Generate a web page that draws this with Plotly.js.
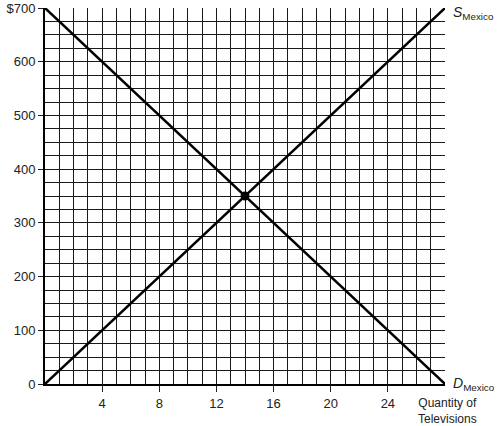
<!DOCTYPE html>
<html>
<head>
<meta charset="utf-8">
<script src="https://cdn.plot.ly/plotly-3.0.1.min.js"></script>
<style>
  html, body { margin: 0; padding: 0; background: #fff; }
  #chart { width: 498px; height: 426px; }
</style>
</head>
<body>
<div id="chart"></div>
<script>
// Market for televisions in Mexico
const quantity = [0, 28];
const supplyPrice = [0, 700];
const demandPrice = [700, 0];
const eqQuantity = [14];
const eqPrice = [350];

const xTickVals = [4, 8, 12, 16, 20, 24];
const yTickVals = [0, 100, 200, 300, 400, 500, 600, 700];
const yTickText = ['0', '100', '200', '300', '400', '500', '600', '$700'];

const gridColor = '#1a1a1a';
const font = { family: 'Liberation Sans, Arial, sans-serif', size: 13, color: '#222' };

const traces = [
    {
        x: quantity, y: supplyPrice,
        type: 'scatter', mode: 'lines',
        line: { color: '#000', width: 2.5 },
        hoverinfo: 'skip', cliponaxis: false
    },
    {
        x: quantity, y: demandPrice,
        type: 'scatter', mode: 'lines',
        line: { color: '#000', width: 2.5 },
        hoverinfo: 'skip', cliponaxis: false
    },
    {
        x: eqQuantity, y: eqPrice,
        type: 'scatter', mode: 'markers',
        marker: { color: '#000', size: 9 },
        hoverinfo: 'skip'
    }
];

const layout = {
    width: 498,
    height: 426,
    showlegend: false,
    paper_bgcolor: '#fff',
    plot_bgcolor: '#fff',
    margin: { l: 45, r: 53, t: 8, b: 42 },
    font,
    xaxis: {
        range: [0, 28],
        tickvals: xTickVals,
        ticks: 'outside', ticklen: 6, tickcolor: '#222',
        showgrid: false,
        minor: { dtick: 1, tick0: 0, showgrid: true, gridcolor: gridColor, gridwidth: 1 },
        zeroline: false,
        showline: true, linecolor: '#000', linewidth: 2,
        fixedrange: true
    },
    yaxis: {
        range: [0, 700],
        tickvals: yTickVals,
        ticktext: yTickText,
        ticks: 'outside', ticklen: 5, tickcolor: '#222',
        showgrid: false,
        minor: { dtick: 25, tick0: 0, showgrid: true, gridcolor: gridColor, gridwidth: 1 },
        zeroline: false,
        showline: true, linecolor: '#000', linewidth: 2,
        fixedrange: true
    },
    annotations: [
        {
            text: '<i>S</i><sub>Mexico</sub>', x: 28, y: 700,
            xref: 'x', yref: 'y', xanchor: 'left', yanchor: 'middle',
            xshift: 6, yshift: -5, showarrow: false,
            font: { ...font, size: 14 }
        },
        {
            text: '<i>D</i><sub>Mexico</sub>', x: 28, y: 0,
            xref: 'x', yref: 'y', xanchor: 'left', yanchor: 'middle',
            xshift: 6, showarrow: false,
            font: { ...font, size: 14 }
        },
        {
            text: 'Quantity of<br>Televisions', x: 28, y: 0,
            xref: 'x', yref: 'y', xanchor: 'center', yanchor: 'top',
            xshift: 2, yshift: -10, showarrow: false,
            font: { ...font, size: 12 }
        }
    ]
};

Plotly.newPlot('chart', traces, layout, { displayModeBar: false, staticPlot: true });
</script>
</body>
</html>
